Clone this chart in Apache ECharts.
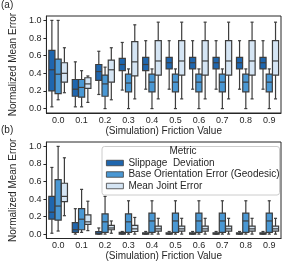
<!DOCTYPE html>
<html><head><meta charset="utf-8">
<script src="https://cdn.jsdelivr.net/npm/echarts@6/dist/echarts.min.js"></script>
<style>html,body{margin:0;padding:0;background:#fff}#c{width:297px;height:264px}</style>
</head><body><div id="c"></div>
<script>
// ---------- data ----------
const categories = ['0.0','0.1','0.2','0.3','0.4','0.5','0.6','0.7','0.8','0.9'];
const yTicks = [0, 0.2, 0.4, 0.6, 0.8, 1.0];
const metricNames = ['Slippage  Deviation', 'Base Orientation Error (Geodesic)', 'Mean Joint Error'];
const legendTitle = 'Metric';
const xName = '(Simulation) Friction Value';
const yName = 'Normalized Mean Error';
const panelLabels = ['(a)', '(b)'];

// each entry: [min, Q1, median, Q3, max]
const slipA = [
  [0.02,0.20,0.44,0.66,1.00],[0.02,0.14,0.22,0.33,0.53],[0.16,0.32,0.42,0.50,0.65],
  [0.21,0.43,0.50,0.57,0.75],[0.22,0.43,0.50,0.58,0.77],[0.22,0.45,0.52,0.58,0.77],
  [0.22,0.45,0.52,0.58,0.77],[0.22,0.45,0.52,0.58,0.77],[0.22,0.45,0.52,0.58,0.77],
  [0.22,0.45,0.52,0.58,0.77]
];
const baseA = [
  [0.10,0.17,0.39,0.56,1.00],[0.02,0.13,0.24,0.33,0.43],[0.00,0.14,0.28,0.38,0.47],
  [0.00,0.19,0.29,0.39,0.45],[0.00,0.19,0.30,0.39,0.45],[0.00,0.19,0.30,0.39,0.45],
  [0.00,0.19,0.30,0.39,0.45],[0.00,0.19,0.30,0.39,0.45],[0.00,0.19,0.30,0.39,0.45],
  [0.00,0.19,0.30,0.39,0.45]
];
const jointA = [
  [0.18,0.30,0.40,0.52,0.69],[0.07,0.23,0.28,0.35,0.37],[0.10,0.30,0.44,0.55,0.69],
  [0.11,0.37,0.53,0.76,0.95],[0.11,0.38,0.54,0.77,0.98],[0.11,0.38,0.54,0.77,0.98],
  [0.11,0.38,0.54,0.77,0.98],[0.11,0.38,0.54,0.77,0.98],[0.11,0.38,0.54,0.77,0.98],
  [0.11,0.38,0.54,0.77,0.98]
];
const slipB = [
  [0.01,0.17,0.25,0.43,0.76],[0.00,0.02,0.05,0.13,0.29],[0.00,0.00,0.01,0.03,0.07],
  [0.00,0.00,0.01,0.02,0.03],[0.00,0.00,0.005,0.015,0.03],[0.00,0.00,0.005,0.015,0.03],
  [0.00,0.00,0.005,0.015,0.03],[0.00,0.00,0.005,0.015,0.03],[0.00,0.00,0.005,0.015,0.03],
  [0.00,0.00,0.005,0.015,0.03]
];
const baseB = [
  [0.035,0.16,0.32,0.62,1.00],[0.02,0.05,0.17,0.29,0.51],[0.00,0.02,0.14,0.23,0.43],
  [0.00,0.02,0.14,0.23,0.38],[0.00,0.02,0.15,0.24,0.38],[0.00,0.02,0.15,0.24,0.38],
  [0.00,0.02,0.15,0.24,0.38],[0.00,0.02,0.15,0.24,0.38],[0.00,0.02,0.15,0.24,0.38],
  [0.00,0.02,0.15,0.24,0.38]
];
const jointB = [
  [0.21,0.37,0.43,0.58,0.87],[0.04,0.11,0.14,0.22,0.375],[0.01,0.05,0.07,0.10,0.15],
  [0.00,0.03,0.06,0.10,0.19],[0.00,0.035,0.06,0.09,0.18],[0.00,0.035,0.06,0.09,0.18],
  [0.00,0.035,0.06,0.09,0.18],[0.00,0.035,0.06,0.09,0.18],[0.00,0.035,0.06,0.09,0.18],
  [0.00,0.035,0.06,0.09,0.18]
];

// ---------- style ----------
const colors = ['#1f66ae', '#4a98d4', '#d5e5f4'];
const lineColor = '#3d3d3d';
const textColor = '#262626';
const FONT = '"Liberation Sans", Arial, sans-serif';

function makeRender(slot, color) {
  return function (params, api) {
    const ci = api.value(0);
    const band = api.size([1, 0])[0];
    const slotW = band * 0.8 / 3;
    const w = slotW * 0.98;
    const capW = w * 0.5;
    const p = [1,2,3,4,5].map(k => api.coord([ci, api.value(k)]));
    const cx = p[0][0] + slot * slotW;
    const [yMin, yQ1, yMed, yQ3, yMax] = p.map(q => q[1]);
    const st = { stroke: lineColor, lineWidth: 1.2, fill: null };
    return {
      type: 'group',
      children: [
        { type: 'line', shape: { x1: cx, y1: yMin, x2: cx, y2: yQ1 }, style: st },
        { type: 'line', shape: { x1: cx, y1: yQ3, x2: cx, y2: yMax }, style: st },
        { type: 'line', shape: { x1: cx - capW/2, y1: yMin, x2: cx + capW/2, y2: yMin }, style: st },
        { type: 'line', shape: { x1: cx - capW/2, y1: yMax, x2: cx + capW/2, y2: yMax }, style: st },
        { type: 'rect', shape: { x: cx - w/2, y: yQ3, width: w, height: yQ1 - yQ3 },
          style: { fill: color, stroke: lineColor, lineWidth: 1.2 } },
        { type: 'line', shape: { x1: cx - w/2, y1: yMed, x2: cx + w/2, y2: yMed }, style: st }
      ]
    };
  };
}

const panels = [[slipA, baseA, jointA], [slipB, baseB, jointB]];
const grids = [
  { left: 35, right: 16, top: 16, height: 97 },
  { left: 35, right: 16, top: 142, height: 96.5 }
];

const series = [];
panels.forEach((sets, gi) => {
  sets.forEach((arr, si) => {
    series.push({
      type: 'custom',
      name: metricNames[si],
      xAxisIndex: gi, yAxisIndex: gi,
      itemStyle: { color: colors[si] },
      encode: { x: 0, y: [1,2,3,4,5] },
      data: arr.map((d, i) => [i].concat(d)),
      renderItem: makeRender(si - 1, colors[si]),
      silent: true, z: 2
    });
  });
});

const option = {
  animation: false,
  textStyle: { fontFamily: FONT, color: textColor },
  title: panelLabels.map((t, i) => ({
    text: t, left: -4, top: i === 0 ? -5 : 120,
    textStyle: { fontFamily: FONT, fontSize: 10, fontWeight: 'normal', color: textColor }
  })),
  grid: grids.map(g => Object.assign({ show: true, borderColor: textColor, borderWidth: 1, backgroundColor: 'transparent' }, g)),
  xAxis: grids.map((g, i) => ({
    type: 'category', gridIndex: i, data: categories,
    axisLine: { onZero: false, lineStyle: { color: textColor, width: 1 } },
    axisTick: { alignWithLabel: true, length: 3, lineStyle: { color: textColor } },
    axisLabel: { fontSize: 9, color: textColor, margin: 3, fontFamily: FONT },
    name: xName, nameLocation: 'middle', nameGap: 13,
    nameTextStyle: { fontSize: 10, color: textColor, fontFamily: FONT },
    splitLine: { show: false }
  })),
  yAxis: grids.map((g, i) => ({
    type: 'value', gridIndex: i, min: -0.05, max: 1.05,
    axisLine: { show: true, lineStyle: { color: textColor, width: 1 } },
    axisTick: { show: true, length: 3, customValues: yTicks, lineStyle: { color: textColor } },
    axisLabel: { fontSize: 9, color: textColor, margin: 5, customValues: yTicks,
                 formatter: v => v.toFixed(1), fontFamily: FONT },
    splitLine: { show: false },
    name: yName, nameLocation: 'middle', nameGap: 21,
    nameTextStyle: { fontSize: 10, color: textColor, fontFamily: FONT }
  })),
  legend: {
    orient: 'vertical', left: 106, top: 158, padding: 0,
    itemWidth: 17, itemHeight: 5.5, itemGap: 1.5,
    icon: 'rect', selectedMode: false, z: 6,
    itemStyle: { borderColor: lineColor, borderWidth: 0.8 },
    textStyle: { fontSize: 10, color: textColor, fontFamily: FONT },
    data: metricNames
  },
  graphic: [
    { type: 'rect', z: 5, shape: { x: 102, y: 146.5, width: 177.5, height: 48.5, r: 2.5 },
      style: { fill: 'rgba(255,255,255,0.85)', stroke: '#cccccc', lineWidth: 1 } },
    { type: 'text', z: 6, x: 183, y: 151, style: { text: legendTitle, fontSize: 10, fill: textColor,
      fontFamily: FONT, textAlign: 'center', textVerticalAlign: 'middle' } }
  ],
  series: series
};

const chart = echarts.init(document.getElementById('c'), null, { renderer: 'canvas' });
chart.setOption(option);
</script>
</body></html>
